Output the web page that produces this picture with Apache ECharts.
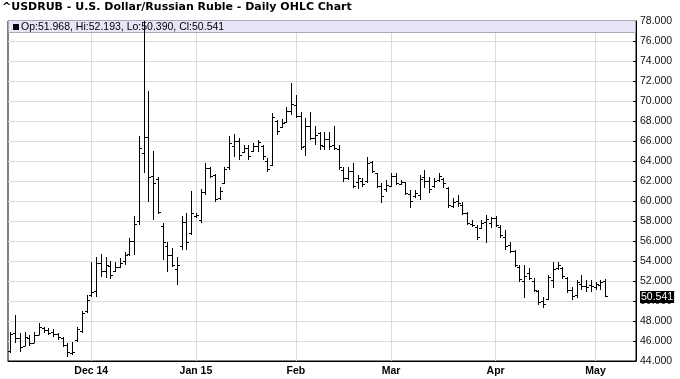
<!DOCTYPE html>
<html><head><meta charset="utf-8">
<script src="https://cdn.jsdelivr.net/npm/echarts@6/dist/echarts.min.js"></script>
<style>html,body{margin:0;padding:0;background:#fff}#c{width:680px;height:379px}</style>
</head><body><div id="c"></div>
<script>
const dates = [
 '2014-11-06','2014-11-07','2014-11-10','2014-11-11','2014-11-12','2014-11-13','2014-11-14','2014-11-17','2014-11-18','2014-11-19',
 '2014-11-20','2014-11-21','2014-11-24','2014-11-25','2014-11-26','2014-11-27','2014-11-28',
 '2014-12-01','2014-12-02','2014-12-03','2014-12-04','2014-12-05','2014-12-08','2014-12-09','2014-12-10','2014-12-11','2014-12-12',
 '2014-12-15','2014-12-16','2014-12-17','2014-12-18','2014-12-19','2014-12-22','2014-12-23','2014-12-24','2014-12-26','2014-12-29','2014-12-30','2014-12-31',
 '2015-01-02','2015-01-05','2015-01-06','2015-01-07','2015-01-08','2015-01-09','2015-01-12','2015-01-13','2015-01-14','2015-01-15','2015-01-16',
 '2015-01-19','2015-01-20','2015-01-21','2015-01-22','2015-01-23','2015-01-26','2015-01-27','2015-01-28','2015-01-29','2015-01-30',
 '2015-02-02','2015-02-03','2015-02-04','2015-02-05','2015-02-06','2015-02-09','2015-02-10','2015-02-11','2015-02-12','2015-02-13',
 '2015-02-16','2015-02-17','2015-02-18','2015-02-19','2015-02-20','2015-02-23','2015-02-24','2015-02-25','2015-02-26','2015-02-27',
 '2015-03-02','2015-03-03','2015-03-04','2015-03-05','2015-03-06','2015-03-09','2015-03-10','2015-03-11','2015-03-12','2015-03-13',
 '2015-03-16','2015-03-17','2015-03-18','2015-03-19','2015-03-20','2015-03-23','2015-03-24','2015-03-25','2015-03-26','2015-03-27','2015-03-30','2015-03-31',
 '2015-04-01','2015-04-02','2015-04-06','2015-04-07','2015-04-08','2015-04-09','2015-04-10','2015-04-13','2015-04-14','2015-04-15',
 '2015-04-16','2015-04-17','2015-04-20','2015-04-21','2015-04-22','2015-04-23','2015-04-24','2015-04-27','2015-04-28','2015-04-29','2015-04-30',
 '2015-05-01','2015-05-04','2015-05-05'
];
const opens = [
 45.0,46.8,46.3,45.5,46.3,45.8,46.6,47.3,47.1,46.9,
 46.7,46.3,45.6,44.8,46.1,47.0,49.0,50.6,51.0,53.8,
 53.0,53.5,53.0,53.4,54.0,54.7,56.0,58.0,64.8,66.4,
 62.5,62.2,57.5,55.5,54.6,53.2,55.5,57.9,56.8,58.5,
 58.1,60.9,63.3,62.6,60.3,61.8,63.4,65.5,66.0,64.9,
 65.3,65.0,65.5,65.5,64.0,63.6,68.0,67.4,67.9,69.0,
 69.6,68.5,65.5,67.5,66.3,66.8,65.5,66.2,65.6,65.2,
 63.1,62.3,63.0,61.9,62.0,62.0,63.9,62.8,61.5,61.2,
 61.5,62.5,61.7,61.9,60.7,60.5,60.6,62.4,62.0,61.5,
 62.1,62.2,61.3,59.5,60.0,59.6,58.8,57.7,57.4,57.3,
 57.9,57.8,58.3,57.4,56.4,55.6,55.0,53.4,52.0,52.8,
 52.0,51.0,50.0,50.2,52.1,53.3,53.3,52.3,51.1,50.6,
 51.7,51.5,51.6,51.4,51.6,51.968
];
const highs = [
 46.9,48.6,46.8,46.9,46.6,46.9,47.8,47.4,47.3,47.2,
 46.8,46.4,45.8,45.9,47.4,49.0,50.6,53.9,54.4,54.7,
 54.4,54.0,53.9,54.3,54.9,56.3,58.5,66.5,79.5,71.0,
 65.0,62.4,57.8,55.9,55.3,54.4,58.5,58.8,61.0,58.8,
 61.2,63.8,63.4,62.7,61.4,63.4,66.5,66.7,66.3,65.6,
 65.6,65.8,66.1,65.6,64.3,68.8,68.1,68.2,69.4,71.8,
 70.6,68.9,68.3,68.9,67.5,66.9,66.9,66.9,67.5,65.6,
 63.4,63.4,63.8,62.6,62.3,64.4,64.0,62.8,61.8,62.1,
 62.8,62.8,62.1,61.9,61.1,61.1,62.6,63.1,62.4,62.3,
 62.8,62.3,61.4,60.3,60.6,59.9,58.9,58.1,57.6,58.1,
 58.6,58.4,58.5,57.6,57.1,55.9,55.1,53.6,53.6,53.3,
 52.3,51.1,50.4,52.6,53.9,53.9,53.4,52.4,51.4,52.1,
 52.6,52.1,52.1,51.9,52.1,52.193
];
const lows = [
 44.8,45.8,44.9,45.5,45.5,45.8,46.6,46.8,46.6,46.4,
 46.1,45.4,44.4,44.6,45.9,46.8,48.8,50.4,50.4,52.4,
 52.3,52.2,52.9,53.3,53.6,54.5,54.6,57.6,62.8,59.9,
 58.1,58.7,54.1,52.9,53.4,51.6,55.1,55.1,56.6,58.3,
 57.8,60.6,62.3,59.9,60.1,61.7,63.1,64.4,64.1,64.8,
 64.1,64.9,64.9,64.1,62.9,63.5,66.6,67.3,67.8,68.6,
 68.3,65.1,64.5,66.1,65.6,65.1,65.1,65.1,65.1,63.1,
 61.9,62.1,61.3,61.2,61.4,61.8,62.8,61.3,59.8,60.9,
 61.4,61.6,61.6,60.6,59.3,60.3,60.1,61.3,60.8,61.3,
 61.9,61.3,59.3,59.3,59.4,58.6,57.6,57.4,56.1,57.2,
 55.8,57.3,57.4,56.3,55.1,54.8,53.4,51.9,50.3,52.1,
 50.9,49.6,49.3,50.1,51.3,53.1,52.2,50.8,50.1,50.3,
 51.1,50.9,50.9,51.1,51.1,50.390
];
const closes = [
 46.7,46.3,45.4,46.4,45.8,46.6,47.4,47.1,46.8,46.7,
 46.4,45.6,44.9,44.9,47.2,48.8,50.1,50.9,53.8,53.0,
 53.6,52.6,53.4,53.8,54.6,56.0,57.7,65.3,66.4,62.4,
 61.8,58.9,55.9,54.6,53.6,53.6,57.9,55.9,58.8,58.6,
 60.9,63.3,62.5,60.2,61.0,63.2,65.8,66.0,64.6,65.3,
 64.5,65.5,65.9,64.5,63.2,68.4,67.0,67.8,69.0,69.7,
 68.5,65.4,67.5,66.3,66.6,65.6,66.2,65.5,65.3,63.4,
 62.3,63.0,61.5,62.3,61.7,63.8,63.0,61.5,60.5,61.6,
 62.5,61.8,61.9,60.8,60.0,60.8,62.2,62.0,61.2,62.0,
 62.5,61.8,59.6,59.9,59.8,58.8,57.8,57.6,56.4,57.8,
 58.2,58.3,57.6,56.6,55.5,55.0,53.6,52.2,52.5,52.3,
 51.1,49.9,49.7,52.4,53.2,53.6,52.5,51.1,50.5,51.9,
 51.5,51.4,51.5,51.7,51.9,50.541
];
const tickDates = ['2014-12-01','2015-01-02','2015-02-02','2015-03-02','2015-04-01','2015-05-01'];
const tickTexts = ['Dec 14','Jan 15','Feb','Mar','Apr','May'];
const titleText = '^USDRUB - U.S. Dollar/Russian Ruble - Daily OHLC Chart';
const padSlots = 6;
const yMin = 44, yMax = 78, yStep = 2;

const cats = dates.concat(Array.from({length: padSlots}, (_, i) => 'pad' + i));
const tickIdx = tickDates.map(d => dates.indexOf(d));
const ohlc = dates.map((d, i) => [i, opens[i], highs[i], lows[i], closes[i]]);
const last = dates.length - 1;
const fmt = v => v.toFixed(3);

function renderItem(params, api) {
  const i = api.value(0);
  const po = api.coord([i, api.value(1)]);
  const yh = api.coord([i, api.value(2)])[1];
  const yl = api.coord([i, api.value(3)])[1];
  const yc = api.coord([i, api.value(4)])[1];
  const x = Math.round(po[0]) + 0.5;
  const yo = Math.round(po[1]) + 0.5;
  const ycc = Math.round(yc) + 0.5;
  const st = {stroke: '#000', lineWidth: 1};
  return {type: 'group', children: [
    {type: 'line', shape: {x1: x, y1: yh, x2: x, y2: yl}, style: st},
    {type: 'line', shape: {x1: x - 2.5, y1: yo, x2: x, y2: yo}, style: st},
    {type: 'line', shape: {x1: x, y1: ycc, x2: x + 2.5, y2: ycc}, style: st}
  ]};
}

const chart = echarts.init(document.getElementById('c'), null, {renderer: 'canvas'});
const option = {
  animation: false,
  backgroundColor: '#fff',
  grid: {left: 8, right: 44, top: 21, bottom: 18, show: true, borderColor: '#000', borderWidth: 1, backgroundColor: 'transparent'},
  xAxis: {
    type: 'category', data: cats, boundaryGap: true,
    axisLine: {lineStyle: {color: '#000', width: 1}},
    axisTick: {alignWithLabel: true, interval: (i) => tickIdx.includes(i), length: 3, lineStyle: {color: '#000'}},
    axisLabel: {interval: (i) => tickIdx.includes(i), formatter: (v, i) => tickTexts[tickIdx.indexOf(i)] || '',
      fontFamily: 'Liberation Sans', fontWeight: 'bold', fontSize: 10.5, color: '#000', margin: 5},
    splitLine: {show: false}
  },
  yAxis: {
    type: 'value', position: 'right', min: yMin, max: yMax, interval: yStep,
    axisLine: {show: true, lineStyle: {color: '#000'}},
    axisTick: {show: true, inside: true, length: 3, lineStyle: {color: '#000'}},
    axisLabel: {formatter: fmt, fontFamily: 'Liberation Sans', fontSize: 10.5, color: '#111', margin: 4, padding: [3, 0, 0, 0]},
    splitLine: {show: true, lineStyle: {color: '#dcdcdc', width: 1}}
  },
  series: [{
    type: 'custom', renderItem: renderItem, data: ohlc, clip: true,
    encode: {x: 0, y: [1, 2, 3, 4]}, z: 5,
    markLine: {
      silent: true, symbol: ['none', 'none'], label: {show: false}, z: 1,
      lineStyle: {color: '#dcdcdc', width: 1, type: 'solid'},
      data: tickIdx.map(i => ({xAxis: dates[i]}))
    }
  }]
};
chart.setOption(option);

const yLast = chart.convertToPixel({yAxisIndex: 0}, closes[last]);
chart.setOption({
  graphic: [
    {type: 'rect', z: 3, shape: {x: 8.5, y: 20.5, width: 627, height: 12}, style: {fill: '#e6e6f8', stroke: '#a8a8b8', lineWidth: 1}},
    {type: 'rect', z: 4, shape: {x: 13, y: 24, width: 6, height: 6}, style: {fill: '#000'}},
    {type: 'text', z: 4, x: 21, y: 27, style: {text: 'Op:' + fmt(opens[last]) + ', Hi:' + fmt(highs[last]) + ', Lo:' + fmt(lows[last]) + ', Cl:' + fmt(closes[last]),
      fontFamily: 'Liberation Sans', fontSize: 10.5, fill: '#000', verticalAlign: 'middle'}},
    {type: 'text', z: 4, x: 2, y: 7, style: {text: titleText, fontFamily: 'DejaVu Sans', fontWeight: 'bold', fontSize: 11, fill: '#000', verticalAlign: 'middle'}},
    {type: 'text', z: 6, x: 640, y: yLast + 1.5, style: {text: fmt(closes[last]), fontFamily: 'Liberation Sans', fontSize: 10.5, fill: '#fff',
      backgroundColor: '#000', padding: [1, 1, 0, 1], verticalAlign: 'middle'}}
  ]
});
</script></body></html>
